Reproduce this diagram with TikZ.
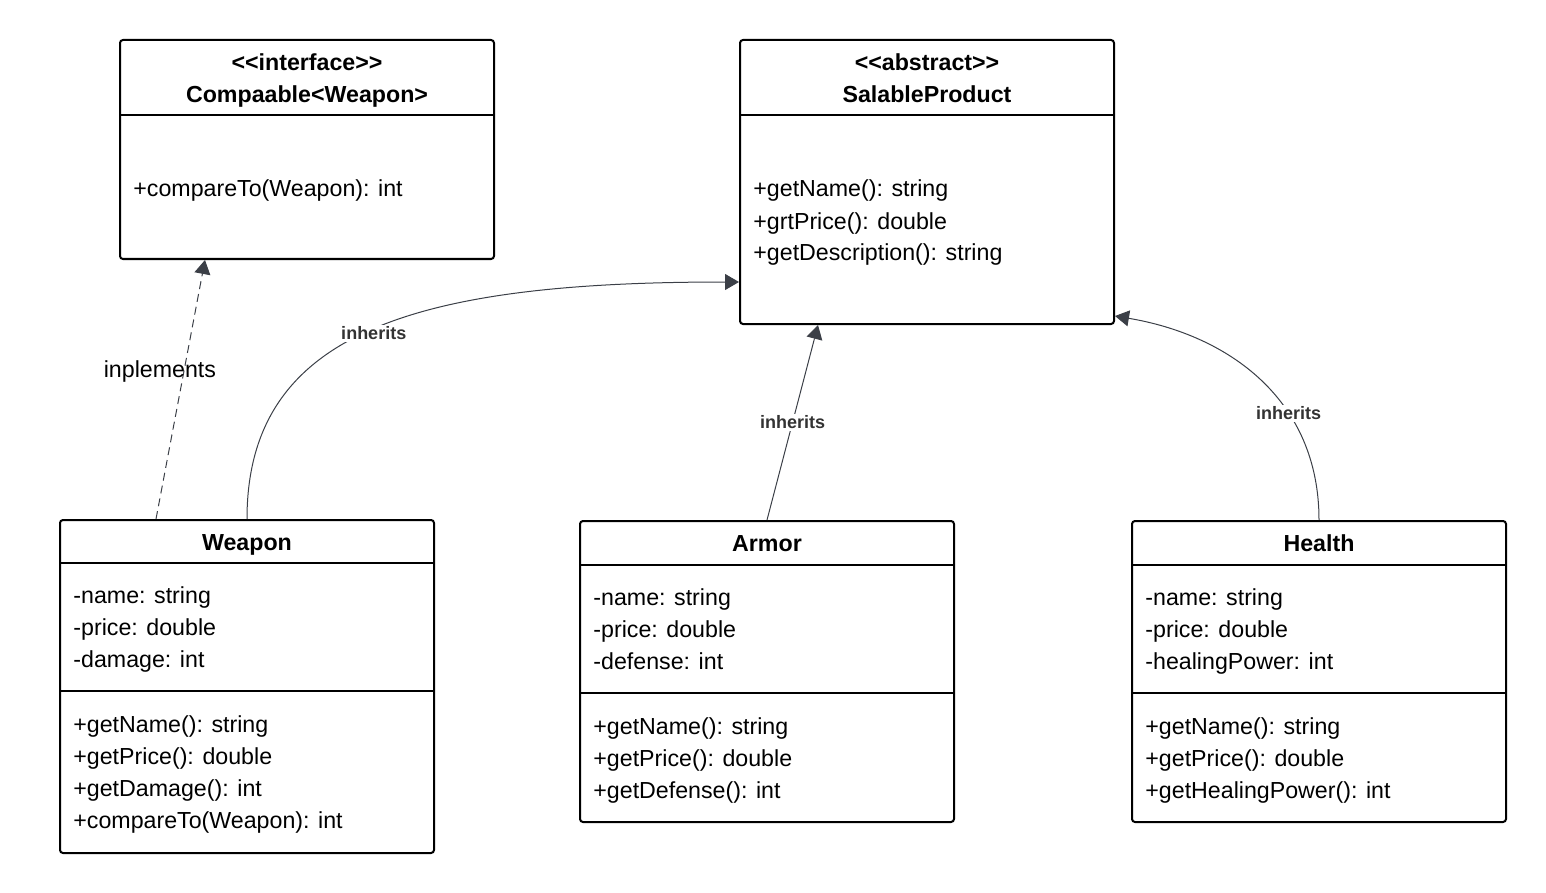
\documentclass[tikz,border=0pt]{standalone}
\usepackage{fontspec}
\setmainfont{Liberation Sans}
\usetikzlibrary{arrows.meta}
\definecolor{edgegray}{HTML}{3B3F47}
\definecolor{labelgray}{HTML}{333333}

\begin{document}
\begin{tikzpicture}[x=0.5pt,y=-0.5pt,
    classbox/.style={draw,line width=1pt,rounded corners=1.5pt,inner sep=0pt},
    sepline/.style={line width=1pt},
    member/.style={anchor=base west,inner sep=0pt,font=\fontsize{11.6pt}{16pt}\selectfont},
    classname/.style={anchor=base,inner sep=0pt,font=\fontsize{11.6pt}{16pt}\selectfont\bfseries},
    link/.style={edgegray,line width=0.5pt,-{Triangle[length=7pt,width=8pt]}},
    edgelabel/.style={fill=white,inner sep=1pt,text=labelgray,font=\fontsize{9pt}{11pt}\selectfont\bfseries}]
    \useasboundingbox (0,0) rectangle (1546,893);

    % boxes
    \node[classbox,minimum width=187pt,minimum height=109.5pt] (compaable) at (307,149.5) {};
    \node[classbox,minimum width=187pt,minimum height=142pt] (salable) at (927,182) {};
    \node[classbox,minimum width=187pt,minimum height=166.5pt] (weapon) at (247,686.5) {};
    \node[classbox,minimum width=187pt,minimum height=150.5pt] (armor) at (767,671.5) {};
    \node[classbox,minimum width=187pt,minimum height=150.5pt] (health) at (1319,671.5) {};

    \draw[sepline] (compaable.west |- 0,115) -- (compaable.east |- 0,115);
    \draw[sepline] (salable.west |- 0,115) -- (salable.east |- 0,115);
    \draw[sepline] (weapon.west |- 0,563) -- (weapon.east |- 0,563);
    \draw[sepline] (weapon.west |- 0,691) -- (weapon.east |- 0,691);
    \draw[sepline] (armor.west |- 0,565) -- (armor.east |- 0,565);
    \draw[sepline] (armor.west |- 0,693) -- (armor.east |- 0,693);
    \draw[sepline] (health.west |- 0,565) -- (health.east |- 0,565);
    \draw[sepline] (health.west |- 0,693) -- (health.east |- 0,693);

    % Compaable<Weapon>
    \node[classname] (ifctag) at (307,71) {<\kern0pt<interface>\kern0pt>};
    \node[classname] (ifcname) at (307,103) {Compaable<Weapon>};
    \node[member] (ifc1) at (133,197) {+compareTo(Weapon): int};

    % SalableProduct
    \node[classname] (abstag) at (927,71) {<\kern0pt<abstract>\kern0pt>};
    \node[classname] (absname) at (927,103) {SalableProduct};
    \node[member] (sp1) at (753,197) {+getName(): string};
    \node[member] (sp2) at (753,229) {+grtPrice(): double};
    \node[member] (sp3) at (753,261) {+getDescription(): string};

    % Weapon
    \node[classname] (wname) at (247,550) {Weapon};
    \node[member] (wa1) at (73,603) {-name: string};
    \node[member] (wa2) at (73,635) {-price: double};
    \node[member] (wa3) at (73,667) {-damage: int};
    \node[member] (wm1) at (73,732) {+getName(): string};
    \node[member] (wm2) at (73,764) {+getPrice(): double};
    \node[member] (wm3) at (73,796) {+getDamage(): int};
    \node[member] (wm4) at (73,828) {+compareTo(Weapon): int};

    % Armor
    \node[classname] (aname) at (767,551) {Armor};
    \node[member] (aa1) at (593,605) {-name: string};
    \node[member] (aa2) at (593,637) {-price: double};
    \node[member] (aa3) at (593,669) {-defense: int};
    \node[member] (am1) at (593,734) {+getName(): string};
    \node[member] (am2) at (593,766) {+getPrice(): double};
    \node[member] (am3) at (593,798) {+getDefense(): int};

    % Health
    \node[classname] (hname) at (1319,551) {Health};
    \node[member] (ha1) at (1145,605) {-name: string};
    \node[member] (ha2) at (1145,637) {-price: double};
    \node[member] (ha3) at (1145,669) {-healingPower: int};
    \node[member] (hm1) at (1145,734) {+getName(): string};
    \node[member] (hm2) at (1145,766) {+getPrice(): double};
    \node[member] (hm3) at (1145,798) {+getHealingPower(): int};

    % relations
    \draw[link,dash pattern=on 4pt off 2.5pt] ([xshift=-45.5pt]weapon.north) -- ([xshift=-51pt]compaable.south)
        node[pos=0.57,xshift=-12pt,inner sep=0pt,text=black,font=\fontsize{11.6pt}{16pt}\selectfont] (impl) {inplements};
    \draw[link] (weapon.north) .. controls +(0,-190) and +(-318,0) .. ([yshift=-50pt]salable.west)
        node[pos=0.5,yshift=-2pt,edgelabel] (inhw) {inherits};
    \draw[link] (armor.north) -- ([xshift=-54.5pt]salable.south)
        node[pos=0.5,edgelabel] (inha) {inherits};
    \draw[link] (health.north) .. controls +(0,-121) and +(113,19) .. ([yshift=-67pt]salable.east)
        node[pos=0.35,edgelabel] (inhh) {inherits};
\end{tikzpicture}
\end{document}
